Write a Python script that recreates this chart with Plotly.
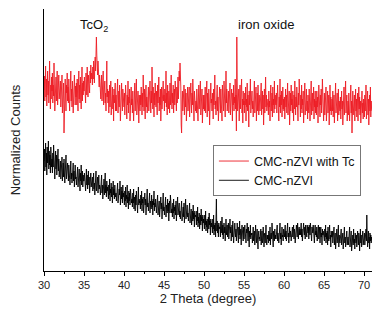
import plotly.graph_objects as go

# 2-theta grid (degrees), 0.05 step from 30 to 71
two_theta = [round(30 + 0.05 * i, 2) for i in range(821)]

# CMC-nZVI with Tc (normalized counts, offset upward)
with_tc = [
    181,195,170,188,205,174,192,165,185,200,176,190,168,184,210,178,162,186,172,194,
    180,198,168,186,175,208,182,160,190,176,194,170,184,200,166,188,178,196,172,183,
    176,190,164,184,172,196,158,180,170,188,138,182,166,192,175,160,186,178,198,170,
    184,168,192,174,160,186,178,200,170,182,164,190,176,158,188,172,196,180,166,185,
    174,188,166,192,178,160,184,200,172,186,168,194,176,162,182,204,170,188,176,190,
    180,194,172,186,168,198,182,176,204,186,174,196,184,190,178,200,188,206,192,198,
    196,186,204,192,210,198,188,206,214,200,222,234,216,204,196,210,190,200,184,196,
    178,192,172,186,196,170,184,176,200,166,182,174,190,168,178,160,186,210,174,182,
    168,180,158,176,186,164,172,190,156,178,170,184,162,176,150,182,168,174,188,160,
    176,160,184,168,192,158,174,180,164,186,170,150,178,166,188,172,160,182,168,176,
    164,178,156,172,186,160,170,152,176,166,190,158,174,168,182,150,170,162,184,166,
    172,158,180,164,150,176,168,188,160,174,166,192,156,170,162,180,168,148,176,164,
    160,176,166,184,170,156,178,164,196,172,160,182,168,152,176,186,164,174,158,180,
    170,184,160,176,166,190,172,158,180,168,204,176,162,184,170,154,178,166,188,172,
    164,180,170,156,186,168,176,194,160,174,166,182,150,172,184,162,178,168,190,170,
    176,160,182,168,172,200,164,178,156,186,170,162,180,174,158,188,166,176,196,170,
    162,178,168,186,158,174,182,166,190,170,176,160,184,168,180,194,172,186,200,190,
    208,196,184,146,138,170,180,160,176,166,186,156,172,182,164,178,150,174,168,184,
    160,176,168,184,154,172,164,188,170,158,178,166,192,162,174,150,180,168,176,160,
    170,158,182,166,176,150,172,186,162,174,168,190,156,178,164,182,148,170,176,162,
    176,160,170,184,158,172,166,190,154,178,168,160,182,170,146,176,164,188,168,172,
    160,178,168,152,182,166,174,196,162,170,156,180,168,186,160,174,150,178,166,184,
    170,158,182,164,176,150,186,168,172,160,190,166,178,154,174,200,168,182,160,176,
    166,180,158,174,168,188,156,176,164,182,170,150,178,166,186,160,174,168,192,162,
    176,140,234,190,160,174,166,182,150,170,186,162,176,168,192,158,172,148,180,166,
    170,158,178,166,184,150,172,164,188,160,176,168,144,180,166,174,192,158,170,164,
    180,162,170,154,176,166,190,158,172,164,184,150,168,178,160,186,170,156,176,168,
    160,174,166,188,156,170,180,162,176,146,168,182,158,172,194,164,176,160,170,166,
    172,156,180,164,170,150,176,186,160,168,178,154,184,166,172,158,190,162,176,168,
    166,178,158,172,186,160,168,150,174,164,192,158,176,166,180,154,170,184,162,172,
    160,174,152,170,182,164,176,158,168,188,156,172,162,180,146,170,178,160,186,166,
    172,158,180,166,150,176,162,190,168,156,174,164,184,160,170,150,178,166,192,160,
    168,154,176,162,186,158,172,166,180,148,170,162,188,156,174,164,182,160,170,152,
    176,164,158,182,168,150,174,162,190,156,170,178,160,166,184,152,172,164,180,158,
    170,156,180,164,174,148,168,186,160,172,154,176,166,182,158,170,192,162,174,150,
    164,178,156,170,160,184,150,172,166,180,158,168,176,146,170,186,160,174,156,168,
    172,160,180,154,168,176,148,170,164,188,158,172,162,178,150,168,182,156,170,164,
    160,174,152,168,180,162,170,146,176,164,184,156,172,160,190,158,168,176,150,166,
    170,156,178,162,150,174,166,186,158,170,138,168,180,156,172,162,176,150,168,182,
    160,172,154,168,178,150,166,184,162,174,156,170,148,176,164,180,158,168,152,172,
    166,154,176,160,170,186,152,168,162,180,156,172,146,168,176,160,184,154,170,162,
    160,
]

# CMC-nZVI (normalized counts)
cmc_nzvi = [
    110,122,100,116,128,104,118,96,124,108,114,130,102,120,106,116,98,124,110,104,
    112,98,118,104,126,100,114,92,108,120,102,116,96,110,104,122,100,112,94,106,
    100,110,92,104,96,114,90,102,108,94,112,98,88,106,100,116,92,104,96,108,
    98,90,106,94,102,86,100,110,92,98,88,104,96,108,90,100,84,98,106,92,
    94,86,100,90,104,84,96,88,102,92,80,98,90,106,86,94,100,84,96,90,
    90,98,84,94,80,92,102,86,96,82,90,100,86,94,78,92,88,98,84,92,
    86,94,80,90,98,82,88,76,92,86,100,80,90,84,94,78,88,96,82,86,
    84,76,90,80,96,78,86,72,88,82,92,76,84,98,78,86,74,90,80,84,
    80,72,86,76,92,70,82,78,88,74,84,68,80,90,76,82,72,86,78,74,
    78,70,84,74,88,68,78,72,82,76,90,66,76,84,72,80,68,86,74,78,
    74,66,80,70,84,64,76,72,86,68,74,62,80,70,78,66,82,72,76,68,
    72,64,78,68,82,62,74,70,60,76,66,80,70,74,58,72,84,66,72,68,
    70,62,76,66,80,60,72,68,74,58,70,64,78,66,72,56,74,68,82,64,
    68,60,74,64,78,58,70,66,62,76,64,70,56,72,66,80,60,68,64,72,
    66,58,72,62,76,56,68,64,70,54,66,60,74,62,68,52,70,64,78,60,
    64,56,70,60,74,54,66,62,58,72,60,68,50,64,70,58,76,62,66,58,
    62,54,68,58,72,52,64,60,66,56,70,50,62,58,74,56,64,60,68,54,
    60,52,66,56,70,50,62,58,64,54,68,48,60,56,72,52,62,58,66,54,
    58,50,64,54,68,48,58,52,62,46,56,60,50,66,52,58,44,60,54,56,
    54,46,60,50,64,44,54,48,58,42,52,56,46,62,50,54,40,56,48,52,
    48,42,56,46,60,40,50,44,52,38,48,54,42,58,46,50,36,52,44,48,
    44,38,52,42,56,36,46,40,48,34,44,72,40,50,38,46,34,48,42,44,
    44,34,50,38,42,54,36,46,32,40,48,38,44,30,42,52,36,40,46,34,
    40,48,32,42,36,52,38,44,30,40,46,34,50,38,28,42,36,48,40,34,
    42,30,38,48,34,40,28,44,36,50,32,38,42,26,40,46,34,38,30,44,
    32,40,46,30,36,28,42,38,48,34,30,44,36,24,40,34,46,32,38,36,
    38,28,34,44,30,36,40,26,32,46,34,28,38,42,30,22,36,40,32,34,
    30,36,42,26,34,40,28,32,44,30,24,36,38,28,34,46,30,26,36,32,
    36,28,40,34,30,44,26,36,38,32,48,30,34,24,40,36,30,42,32,36,
    32,40,36,46,30,38,34,28,42,36,48,32,38,26,40,44,34,36,30,42,
    40,34,38,46,32,40,30,44,36,48,34,38,28,42,44,34,40,36,30,42,
    36,44,34,40,46,32,42,38,28,44,36,46,40,34,48,38,32,42,44,36,
    42,36,40,48,34,42,30,44,38,48,40,36,44,32,46,38,42,34,46,40,
    38,44,32,46,40,36,48,34,42,30,44,40,38,46,34,42,28,42,46,36,
    40,34,44,30,42,38,46,32,36,44,28,40,44,34,38,26,42,36,40,32,
    36,30,42,34,46,28,38,32,40,26,44,34,30,38,46,32,36,24,40,34,
    34,40,28,36,30,44,26,34,38,22,36,32,42,28,34,30,46,24,36,30,
    28,36,32,42,26,34,30,38,22,36,32,44,28,34,24,38,30,40,26,32,
    34,26,38,30,44,24,32,28,40,20,34,30,36,26,42,28,32,22,38,30,
    28,36,24,32,40,30,26,38,34,20,30,42,28,36,24,34,30,40,26,32,
    32,38,26,34,28,42,30,56,36,24,32,40,28,34,22,38,30,36,28,34,
    31,
]

x_ticks = [30, 35, 40, 45, 50, 55, 60, 65, 70]
peak_labels = ["TcO<sub>2</sub>", "iron oxide"]
peak_pos = [36.3, 54.0]
peak_label_y = [246, 247]

FONT = "Arial, Liberation Sans, sans-serif"

fig = go.Figure()
fig.add_trace(go.Scatter(x=two_theta, y=with_tc, mode="lines", name="CMC-nZVI with Tc",
                         line=dict(color="#ed1c24", width=0.9)))
fig.add_trace(go.Scatter(x=two_theta, y=cmc_nzvi, mode="lines", name="CMC-nZVI",
                         line=dict(color="#000000", width=0.9)))

fig.add_annotation(x=peak_pos[0], y=peak_label_y[0], text=peak_labels[0], showarrow=False,
                   xanchor="center", yanchor="middle", font=dict(size=13, color="#111", family=FONT))
fig.add_annotation(x=peak_pos[1], y=peak_label_y[1], text=peak_labels[1], showarrow=False,
                   xanchor="left", yanchor="middle", font=dict(size=13, color="#111", family=FONT))

# The page body has an 8px margin, so the figure is sized/margined to compensate.
fig.update_layout(
    width=381, height=309,
    margin=dict(l=36, r=17, t=1, b=46, autoexpand=False),
    paper_bgcolor="white", plot_bgcolor="white",
    font=dict(family=FONT, color="#222"),
    showlegend=True,
    legend=dict(x=0.515, y=0.382, xanchor="left", yanchor="middle",
                bordercolor="#777", borderwidth=1, bgcolor="white",
                font=dict(size=12.5, family=FONT, color="#111"),
                tracegroupgap=0, itemwidth=30),
    xaxis=dict(range=[30, 71], tickvals=x_ticks, ticktext=[str(v) for v in x_ticks],
               automargin=False,
               showline=True, linecolor="black", linewidth=1, mirror=False,
               ticks="outside", ticklen=4, tickcolor="black", showgrid=False, zeroline=False,
               tickfont=dict(size=11, family=FONT, color="#222"),
               minor=dict(ticks="outside", ticklen=2, dtick=2.5, tickcolor="black", showgrid=False),
               title=dict(text="2 Theta (degree)", font=dict(size=13, family=FONT, color="#222"), standoff=2)),
    yaxis=dict(range=[0, 262], automargin=False,
               showline=True, linecolor="black", linewidth=1,
               showticklabels=False, ticks="", showgrid=False, zeroline=False,
               title=dict(text="Normalized Counts", font=dict(size=13, family=FONT, color="#222"), standoff=20)),
)

fig.write_html("out.html")
